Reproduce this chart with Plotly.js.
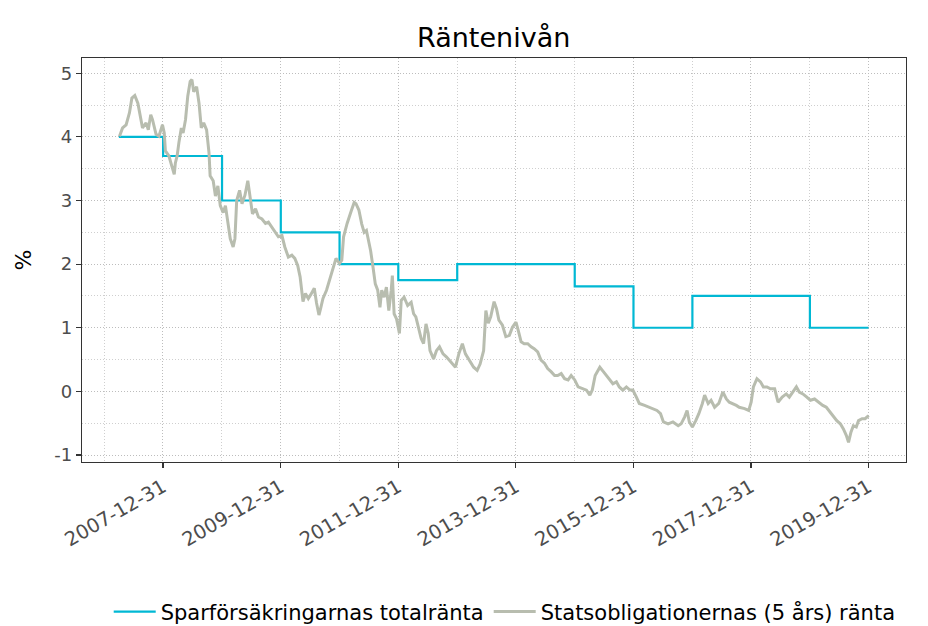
<!DOCTYPE html>
<html>
<head>
<meta charset="utf-8">
<script src="https://cdn.plot.ly/plotly-3.0.1.min.js"></script>
<style>html,body{margin:0;padding:0;background:#fff;}#chart{width:928px;height:626px;}</style>
</head>
<body>
<div id="chart"></div>
<script>
// Sparförsäkringarnas totalränta (step series)
const rateDates = ['2007-04-01','2008-01-01','2009-01-01','2010-01-01','2011-01-01','2012-01-01','2013-01-01','2015-01-01','2016-01-01','2017-01-01','2019-01-01','2019-12-31'];
const rateValues = [4.0, 3.7, 3.0, 2.5, 2.0, 1.75, 2.0, 1.65, 1.0, 1.5, 1.0, 1.0];

// Statsobligationernas (5 års) ränta (decimal years)
const bondYears = [
2007.26,2007.31,2007.37,2007.43,2007.47,2007.52,2007.57,2007.61,2007.65,2007.71,2007.75,2007.79,2007.82,2007.88,2007.93,2007.99,
2008.02,2008.04,2008.10,2008.15,2008.19,2008.21,2008.24,2008.27,2008.31,2008.34,2008.38,2008.42,2008.46,2008.49,2008.52,2008.57,
2008.61,2008.65,2008.69,2008.74,2008.78,2008.80,2008.85,2008.89,2008.93,2008.97,2009.02,2009.06,2009.10,2009.14,2009.19,2009.22,
2009.25,2009.30,2009.34,2009.39,2009.44,2009.48,2009.52,2009.57,2009.62,2009.68,2009.74,2009.79,2009.85,2009.90,2009.96,
2010.02,2010.07,2010.13,2010.19,2010.24,2010.29,2010.33,2010.38,2010.42,2010.47,2010.51,2010.57,2010.61,2010.65,2010.68,2010.72,
2010.78,2010.83,2010.89,2010.94,2011.00,2011.04,2011.07,2011.13,2011.20,2011.25,2011.28,2011.33,2011.38,2011.42,2011.46,2011.50,
2011.53,2011.57,2011.61,2011.65,2011.69,2011.72,2011.76,2011.80,2011.84,2011.88,2011.90,2011.93,2011.97,2012.02,2012.05,2012.10,
2012.16,2012.22,2012.26,2012.30,2012.35,2012.39,2012.43,2012.47,2012.51,2012.54,2012.60,2012.65,2012.70,2012.76,2012.82,2012.90,
2012.97,2013.03,2013.09,2013.14,2013.21,2013.28,2013.34,2013.39,2013.45,2013.49,2013.53,2013.57,2013.63,2013.67,2013.71,2013.77,
2013.83,2013.89,2013.94,2014.00,2014.04,2014.09,2014.14,2014.20,2014.26,2014.31,2014.37,2014.43,2014.49,2014.54,2014.60,2014.66,
2014.71,2014.77,2014.83,2014.89,2014.94,2015.00,2015.06,2015.13,2015.20,2015.26,2015.30,2015.35,2015.43,2015.49,2015.54,2015.59,
2015.65,2015.71,2015.76,2015.82,2015.88,2015.94,2015.99,2016.05,2016.10,2016.19,2016.26,2016.33,2016.40,2016.46,2016.51,2016.59,
2016.67,2016.76,2016.81,2016.87,2016.91,2016.95,2017.00,2017.06,2017.11,2017.17,2017.21,2017.27,2017.32,2017.38,2017.45,2017.52,
2017.58,2017.63,2017.69,2017.75,2017.80,2017.89,2017.96,2018.00,2018.04,2018.10,2018.16,2018.21,2018.27,2018.33,2018.40,2018.46,
2018.53,2018.60,2018.65,2018.71,2018.77,2018.82,2018.88,2018.95,2019.01,2019.08,2019.15,2019.22,2019.28,2019.35,2019.40,2019.46,
2019.52,2019.57,2019.62,2019.66,2019.70,2019.74,2019.79,2019.83,2019.89,2019.94,2020.00
];
const bondValues = [
4.01,4.14,4.19,4.38,4.61,4.65,4.53,4.32,4.14,4.22,4.11,4.35,4.27,4.04,4.01,4.19,
4.06,3.78,3.70,3.54,3.41,3.59,3.70,3.91,4.14,4.06,4.27,4.64,4.87,4.90,4.71,4.79,
4.53,4.14,4.22,4.11,3.75,3.39,3.31,3.07,3.23,2.92,2.81,2.92,2.66,2.40,2.27,2.40,
3.00,3.16,2.95,3.08,3.31,3.00,2.79,2.87,2.74,2.71,2.64,2.66,2.58,2.51,2.43,
2.45,2.27,2.11,2.14,2.09,1.98,1.80,1.41,1.54,1.46,1.52,1.62,1.39,1.20,1.31,1.46,
1.59,1.75,1.91,2.09,2.01,2.06,2.43,2.64,2.84,2.97,2.95,2.85,2.63,2.50,2.53,2.37,
2.21,1.95,1.69,1.59,1.32,1.59,1.48,1.64,1.27,1.59,1.82,1.22,1.14,0.91,1.43,1.48,
1.35,1.40,1.22,1.17,0.96,0.83,0.75,1.06,0.91,0.64,0.51,0.64,0.70,0.59,0.54,0.46,
0.38,0.59,0.75,0.59,0.49,0.38,0.33,0.43,0.64,1.27,1.07,1.17,1.41,1.30,1.12,1.04,
0.86,0.88,1.01,1.09,0.96,0.78,0.75,0.75,0.70,0.67,0.62,0.49,0.44,0.36,0.31,0.25,
0.25,0.28,0.20,0.18,0.25,0.18,0.07,0.04,0.02,-0.06,0.02,0.25,0.38,0.31,0.25,0.20,
0.12,0.15,0.07,0.02,0.07,0.02,0.02,-0.09,-0.19,-0.22,-0.25,-0.27,-0.30,-0.35,-0.48,-0.51,
-0.48,-0.54,-0.51,-0.40,-0.30,-0.48,-0.56,-0.46,-0.35,-0.19,-0.06,-0.19,-0.14,-0.25,-0.19,-0.01,
-0.12,-0.17,-0.19,-0.22,-0.25,-0.27,-0.30,-0.17,0.07,0.20,0.15,0.07,0.07,0.04,0.04,-0.17,
-0.09,-0.04,-0.09,-0.01,0.07,-0.01,-0.04,-0.09,-0.14,-0.12,-0.17,-0.22,-0.25,-0.33,-0.38,-0.46,
-0.51,-0.59,-0.69,-0.80,-0.64,-0.54,-0.56,-0.46,-0.43,-0.43,-0.38
];

const xTickVals = ['2007-12-31','2009-12-31','2011-12-31','2013-12-31','2015-12-31','2017-12-31','2019-12-31'];
const xMinorVals = ['2006-12-31','2008-12-31','2010-12-31','2012-12-31','2014-12-31','2016-12-31','2018-12-31','2020-12-31'];
const yTickVals = [-1, 0, 1, 2, 3, 4, 5];
const yTickText = ['-1', '0', '1', '2', '3', '4', '5'];

function decToDate(d) {
  const y = Math.floor(d);
  const s = Date.UTC(y, 0, 1), e = Date.UTC(y + 1, 0, 1);
  return new Date(s + (d - y) * (e - s)).toISOString().slice(0, 10);
}
const bondDates = bondYears.map(decToDate);

const FONT = 'DejaVu Sans, sans-serif';
const GRIDDASH = '1px,2px';
const data = [
  {x: rateDates, y: rateValues, type: 'scatter', mode: 'lines', line: {shape: 'hv', color: '#00B8D4', width: 2.2},
   name: 'Sparförsäkringarnas totalränta'},
  {x: bondDates, y: bondValues, type: 'scatter', mode: 'lines', line: {color: '#B8BDAF', width: 3},
   name: 'Statsobligationernas (5 års) ränta'}
];
const layout = {
  width: 928, height: 626,
  margin: {l: 82, r: 22, t: 58, b: 164, autoexpand: false},
  paper_bgcolor: '#fff', plot_bgcolor: '#fff',
  font: {family: FONT, color: '#4D4D4D', size: 16},
  title: {text: 'Räntenivån', x: 0.532, xanchor: 'center', y: 0.955, font: {family: FONT, size: 27, color: '#000'}},
  xaxis: {
    type: 'date', range: ['2006-08-15', '2020-08-20'],
    tickmode: 'array', tickvals: xTickVals, ticktext: xTickVals, tickangle: -30,
    ticks: 'outside', ticklen: 5, tickcolor: '#333', tickwidth: 1.2,
    showline: true, mirror: true, linecolor: '#333', linewidth: 1.2,
    showgrid: true, gridcolor: '#BDBDBD', griddash: GRIDDASH, gridwidth: 1,
    minor: {tickmode: 'array', tickvals: xMinorVals, showgrid: true, gridcolor: '#CFCFCF', griddash: GRIDDASH, gridwidth: 1, ticks: ''},
    zeroline: false, tickfont: {family: FONT, size: 19.5, color: '#4D4D4D'}
  },
  yaxis: {
    range: [-1.11, 5.24], tickmode: 'array', tickvals: yTickVals, ticktext: yTickText,
    ticks: 'outside', ticklen: 5, tickcolor: '#333', tickwidth: 1.2,
    showline: true, mirror: true, linecolor: '#333', linewidth: 1.2,
    showgrid: true, gridcolor: '#BDBDBD', griddash: GRIDDASH, gridwidth: 1,
    minor: {dtick: 0.5, showgrid: true, gridcolor: '#CFCFCF', griddash: GRIDDASH, gridwidth: 1, ticks: ''},
    zeroline: false, tickfont: {family: FONT, size: 18, color: '#4D4D4D'},
    title: {text: '%', font: {family: FONT, size: 22, color: '#000'}, standoff: 16}
  },
  showlegend: true,
  legend: {orientation: 'h', x: 0.513, xanchor: 'center', y: -0.371, yanchor: 'middle',
           font: {family: FONT, size: 21, color: '#000'}, itemwidth: 42, bgcolor: 'rgba(0,0,0,0)'}
};
Plotly.newPlot('chart', data, layout, {displayModeBar: false, staticPlot: true});
</script>
</body>
</html>
